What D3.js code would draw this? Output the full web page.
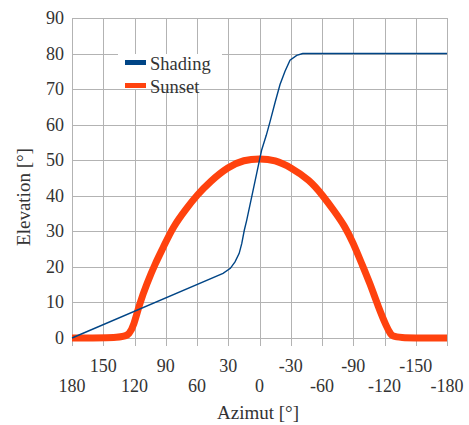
<!DOCTYPE html>
<html>
<head>
<meta charset="utf-8">
<script src="https://cdn.jsdelivr.net/npm/d3@7"></script>
<style>
  html, body { margin: 0; padding: 0; background: #fff; }
  svg { display: block; }
</style>
</head>
<body>
<svg id="chart" width="469" height="425"></svg>
<script>
// Azimuth (degrees) / elevation (degrees) of the horizon shading profile
const shadingAz   = [180, 35, 28, 23.5, 19.5, 17, 14.6, 12.3, 7.5, 2.7, -2, -6.5, -10, -15, -19.7, -24.5, -29.3, -35.7, -41.5, -180];
const shadingElev = [0, 18.2, 19.6, 21.4, 23.8, 26.6, 30.3, 33.1, 39.7, 46.3, 52.8, 57, 60.7, 66.3, 71.3, 75, 78.1, 79.5, 80, 80];

// Sun path on the sunset day
const sunsetAz   = [180, 130, 125, 121, 115, 108, 100, 92, 83, 70, 60, 47.5, 30, 15, 0, -15, -30, -48, -61, -72, -82, -90, -98, -106, -114, -122, -126, -129, -180];
const sunsetElev = [0, 0, 1.2, 3.2, 9.8, 15.4, 21, 25.7, 31.3, 36.5, 40.2, 44, 48.2, 50.1, 50.5, 50.1, 48, 44.5, 40, 35.6, 31.4, 26.7, 21, 15.4, 8.8, 3.1, 1, 0, 0];

const xTicksUpper = [150, 90, 30, -30, -90, -150];
const xTicksLower = [180, 120, 60, 0, -60, -120, -180];
const yTicks = [0, 10, 20, 30, 40, 50, 60, 70, 80, 90];

const seriesNames = ["Shading", "Sunset"];
const seriesColors = ["#004586", "#ff420e"];

const FONT = "'Liberation Serif', 'DejaVu Serif', 'Times New Roman', serif";
const TEXT_COLOR = "#333";

const svg = d3.select("#chart");
const plotLeft = 72, plotRight = 447, plotTop = 18, plotBottom = 338;

const x = d3.scaleLinear().domain([180, -180]).range([plotLeft, plotRight]);
const y = d3.scaleLinear().domain([0, 90]).range([plotBottom, plotTop]);

const grid = "#b3b3b3";

// vertical grid lines every 30°, continuing below the axis as ticks
const allX = xTicksUpper.concat(xTicksLower);
svg.append("g").selectAll("line").data(allX).join("line")
  .attr("x1", d => Math.round(x(d)) + 0.5).attr("x2", d => Math.round(x(d)) + 0.5)
  .attr("y1", plotTop).attr("y2", plotBottom + 8)
  .attr("stroke", grid).attr("stroke-width", 1);

// horizontal grid lines
svg.append("g").selectAll("line").data(yTicks).join("line")
  .attr("x1", plotLeft).attr("x2", plotRight)
  .attr("y1", d => Math.round(y(d)) + 0.5).attr("y2", d => Math.round(y(d)) + 0.5)
  .attr("stroke", grid).attr("stroke-width", 1);

function label(sel) {
  return sel.attr("font-family", FONT).attr("fill", TEXT_COLOR);
}

// y tick labels
svg.append("g").selectAll("text").data(yTicks).join("text")
  .call(label)
  .attr("x", 64).attr("y", d => y(d) + 6)
  .attr("text-anchor", "end").attr("font-size", 18)
  .text(d => d);

// x tick labels on two staggered rows
svg.append("g").selectAll("text").data(xTicksUpper).join("text")
  .call(label)
  .attr("x", d => x(d)).attr("y", 372)
  .attr("text-anchor", "middle").attr("font-size", 18)
  .text(d => d);
svg.append("g").selectAll("text").data(xTicksLower).join("text")
  .call(label)
  .attr("x", d => x(d)).attr("y", 392)
  .attr("text-anchor", "middle").attr("font-size", 18)
  .text(d => d);

// axis titles
svg.append("text").call(label).attr("x", 258).attr("y", 419)
  .attr("text-anchor", "middle").attr("font-size", 19).text("Azimut [°]");
svg.append("text").call(label).attr("transform", "translate(30,197) rotate(-90)")
  .attr("text-anchor", "middle").attr("font-size", 19).text("Elevation [°]");

// series lines
const shading = shadingAz.map((a, i) => [a, shadingElev[i]]);
const sunset = sunsetAz.map((a, i) => [a, sunsetElev[i]]);

const straightLine = d3.line().x(d => x(d[0])).y(d => y(d[1]));
const smoothLine = d3.line().x(d => x(d[0])).y(d => y(d[1])).curve(d3.curveBasis);

svg.append("path").datum(sunset)
  .attr("d", smoothLine)
  .attr("fill", "none").attr("stroke", seriesColors[1])
  .attr("stroke-width", 7).attr("stroke-linejoin", "round");

svg.append("path").datum(shading)
  .attr("d", straightLine)
  .attr("fill", "none").attr("stroke", seriesColors[0])
  .attr("stroke-width", 1.4);

// legend
const legend = svg.append("g");
legend.append("rect").attr("x", 118).attr("y", 54).attr("width", 104).attr("height", 35).attr("fill", "#fff");
const ly = [62.5, 85.5];
seriesNames.forEach((name, i) => {
  legend.append("rect").attr("x", 125).attr("y", ly[i] - 2.5).attr("width", 21).attr("height", 5)
    .attr("fill", seriesColors[i]);
  legend.append("text").call(label).attr("x", 150).attr("y", ly[i] + 7)
    .attr("font-size", 18.5).text(name);
});
</script>
</body>
</html>
